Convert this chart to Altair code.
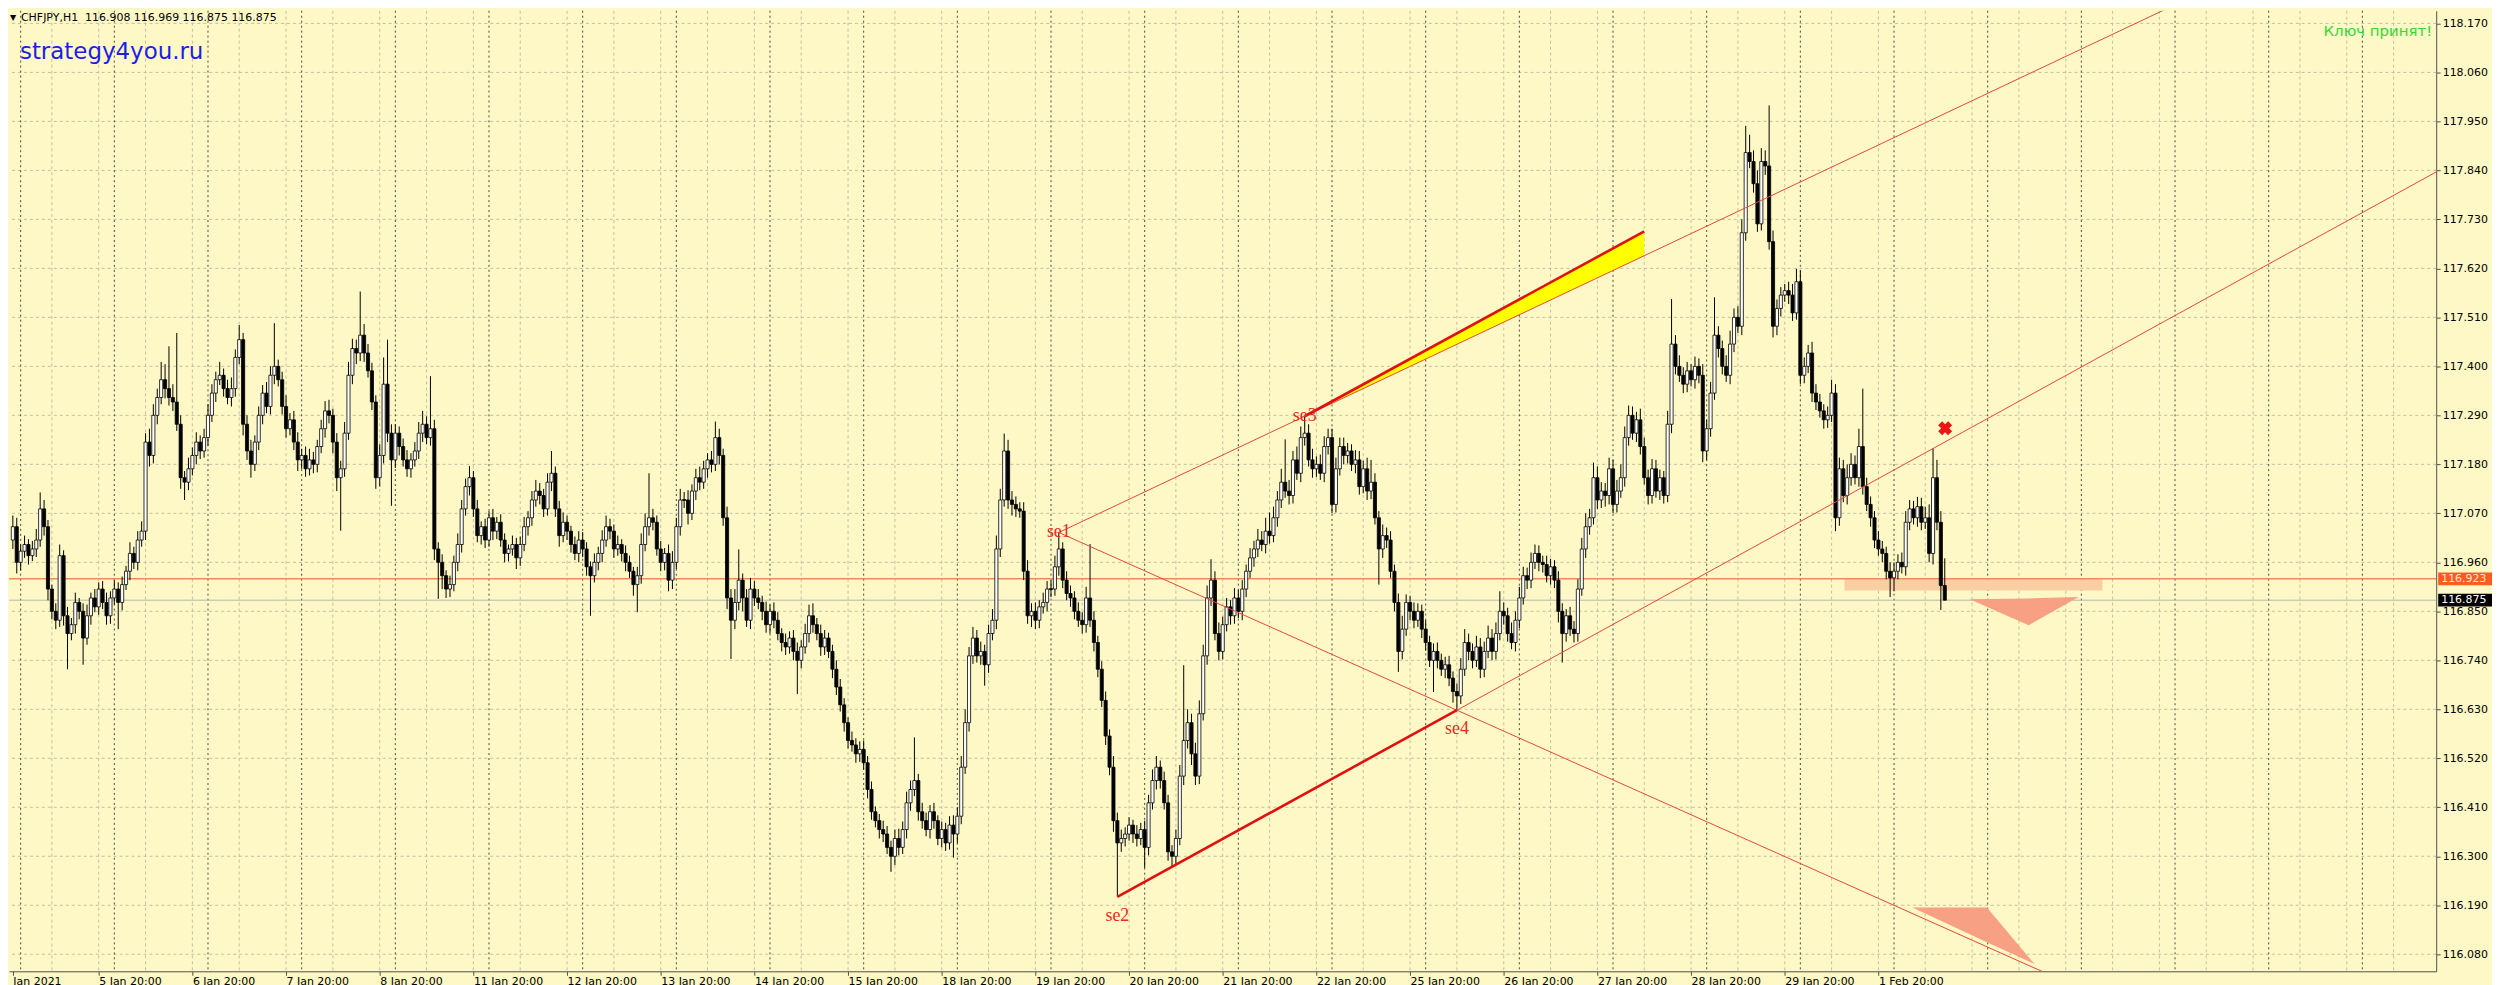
import altair as alt
import pandas as pd

# ---------------------------------------------------------------- data
# CHFJPY H1 candles; prices stored in points above 116.000 (1 point = 0.001)
BASE = 116.0
FIRST_OPEN = 1010

closes = [
    1040, 960,  # 4 Jan 22:00-23:00
    985, 1000, 975, 990, 1010, 1080, 1040, 900, 850, 830, 975, 840, 800, 820, 870, 850, 790, 840, 880, 860, 900, 870, 840, 880,  # 5 Jan
    900, 870, 910, 940, 980, 960, 1010, 1030, 1230, 1200, 1290, 1330, 1370, 1350, 1330, 1320, 1270, 1150, 1140, 1170, 1200, 1230, 1210, 1240,  # 6 Jan
    1290, 1340, 1370, 1380, 1350, 1330, 1350, 1420, 1460, 1270, 1210, 1180, 1230, 1290, 1340, 1310, 1380, 1400, 1370, 1310, 1260, 1280, 1230, 1190,  # 7 Jan
    1200, 1170, 1190, 1180, 1220, 1260, 1300, 1290, 1230, 1150, 1170, 1250, 1380, 1440, 1430, 1470, 1430, 1390, 1320, 1150, 1200, 1360, 1250, 1190,  # 8 Jan
    1250, 1220, 1190, 1170, 1190, 1210, 1250, 1270, 1240, 1260, 990, 960, 930, 900, 910, 960, 1000, 1080, 1130, 1150, 1080, 1020, 1040, 1010,  # 11 Jan
    1060, 1030, 1050, 1010, 980, 990, 1000, 970, 1000, 1040, 1060, 1100, 1120, 1110, 1080, 1140, 1160, 1080, 1020, 1050, 1030, 1000, 980, 1010,  # 12 Jan
    990, 950, 930, 960, 980, 1010, 1040, 1030, 990, 1000, 980, 960, 940, 910, 930, 1000, 1040, 1060, 1050, 990, 960, 980, 920, 960,  # 13 Jan
    1040, 1100, 1100, 1070, 1120, 1150, 1140, 1170, 1190, 1180, 1240, 1200, 1060, 880, 830, 870, 920, 880, 830, 900, 880, 870, 850, 820,  # 14 Jan
    850, 830, 800, 780, 770, 790, 760, 740, 770, 800, 840, 820, 800, 770, 790, 760, 720, 680, 640, 600, 560, 550, 530, 540,  # 15 Jan
    510, 450, 400, 380, 360, 350, 320, 300, 340, 320, 360, 420, 450, 470, 400, 380, 360, 400, 380, 340, 360, 330, 370, 350,  # 18 Jan
    390, 500, 600, 750, 790, 750, 760, 730, 800, 830, 990, 1100, 1210, 1100, 1090, 1080, 1075, 940, 840, 850, 830, 860, 870, 900,  # 19 Jan
    900, 950, 990, 920, 890, 880, 850, 830, 820, 880, 830, 780, 720, 650, 570, 500, 380, 330, 340, 350, 370, 350, 340, 360,  # 20 Jan
    320, 420, 470, 500, 470, 420, 310, 300, 340, 480, 560, 600, 530, 480, 620, 750, 880, 920, 800, 760, 820, 860, 840, 880,  # 21 Jan
    850, 900, 940, 970, 990, 1010, 1000, 1030, 1020, 1060, 1100, 1140, 1120, 1110, 1190, 1160, 1240, 1250, 1190, 1170, 1180, 1160, 1220, 1240,  # 22 Jan
    1090, 1170, 1220, 1200, 1210, 1180, 1190, 1130, 1170, 1120, 1140, 1060, 990, 1020, 1010, 940, 870, 760, 810, 870, 850, 830, 850, 810,  # 25 Jan
    780, 740, 760, 740, 720, 730, 700, 670, 660, 720, 780, 760, 740, 770, 720, 760, 790, 760, 800, 850, 840, 800, 780, 830,  # 26 Jan
    880, 930, 920, 960, 980, 960, 955, 930, 950, 920, 850, 800, 840, 810, 800, 900, 990, 1040, 1060, 1150, 1100, 1120, 1110, 1170,  # 27 Jan
    1090, 1120, 1150, 1240, 1290, 1250, 1280, 1220, 1150, 1110, 1170, 1120, 1150, 1110, 1270, 1450, 1400, 1380, 1360, 1390, 1370, 1400, 1380, 1210,  # 28 Jan
    1260, 1340, 1470, 1440, 1400, 1380, 1450, 1510, 1490, 1700, 1880, 1860, 1810, 1720, 1860, 1850, 1680, 1490, 1530, 1560, 1570, 1560, 1520, 1590,  # 29 Jan
    1380, 1400, 1430, 1340, 1320, 1300, 1280, 1290, 1340, 1060, 1170, 1110, 1150, 1180, 1150, 1220, 1130, 1090, 1060, 1010, 990, 980, 940, 925,  # 1 Feb
    940, 960, 950, 1050, 1080, 1060, 1085, 1050, 1060, 980, 1150, 1050, 908, 875,  # 2 Feb
]

# upper shadow above the body, in points
wick_up = [
    25, 20,
    15, 20, 12, 18, 25, 37, 20, 15, 10, 18, 25, 12, 20, 15, 22, 10, 18, 25, 12, 20, 15, 18, 22, 15,
    20, 15, 18, 12, 25, 15, 20, 22, 20, 30, 25, 20, 40, 35, 95, 30, 155, 20, 15, 25, 18, 22, 15, 20,
    25, 20, 18, 30, 15, 20, 25, 18, 33, 15, 20, 25, 15, 20, 18, 25, 20, 97, 15, 18, 25, 15, 20, 22,
    15, 20, 25, 18, 15, 20, 22, 25, 15, 20, 18, 25, 30, 22, 20, 98, 25, 20, 18, 15, 25, 60, 100, 20,
    20, 15, 18, 22, 15, 20, 25, 30, 18, 118, 20, 15, 18, 12, 20, 15, 25, 20, 18, 26, 15, 20, 12, 18,
    15, 20, 12, 18, 15, 10, 20, 15, 18, 22, 15, 20, 25, 18, 15, 20, 50, 15, 18, 22, 15, 12, 18, 20,
    18, 15, 12, 20, 15, 22, 25, 18, 15, 20, 12, 18, 15, 10, 20, 25, 30, 100, 20, 15, 18, 12, 20, 25,
    20, 25, 18, 22, 15, 20, 25, 18, 15, 20, 36, 20, 15, 25, 20, 30, 69, 15, 20, 25, 18, 20, 15, 22,
    15, 20, 18, 12, 20, 15, 18, 20, 15, 22, 25, 28, 15, 20, 18, 12, 15, 20, 18, 15, 12, 20, 15, 18,
    20, 15, 18, 12, 15, 20, 18, 15, 20, 22, 18, 25, 20, 97, 15, 20, 18, 15, 20, 12, 18, 15, 20, 22,
    20, 25, 30, 20, 25, 18, 22, 15, 20, 25, 30, 25, 39, 25, 20, 18, 15, 20, 25, 18, 20, 15, 22, 18,
    20, 25, 37, 15, 20, 18, 15, 20, 18, 25, 121, 20, 15, 18, 20, 15, 25, 18, 20, 15, 18, 12, 20, 15,
    20, 18, 25, 25, 15, 20, 18, 15, 20, 25, 169, 30, 20, 25, 30, 25, 28, 47, 20, 25, 18, 20, 15, 22,
    18, 20, 15, 22, 18, 25, 20, 30, 42, 25, 20, 30, 96, 25, 20, 30, 25, 38, 20, 25, 18, 22, 23, 20,
    20, 25, 20, 20, 18, 15, 22, 20, 18, 25, 50, 20, 15, 25, 18, 20, 15, 20, 30, 18, 15, 20, 18, 15,
    20, 15, 18, 20, 15, 18, 20, 15, 18, 25, 30, 20, 18, 25, 20, 22, 28, 20, 25, 45, 20, 18, 25, 20,
    25, 20, 18, 22, 20, 18, 15, 20, 18, 15, 20, 18, 15, 20, 18, 22, 25, 30, 20, 34, 25, 20, 18, 25,
    20, 25, 30, 25, 22, 20, 18, 25, 20, 18, 22, 20, 18, 15, 30, 101, 20, 25, 18, 20, 15, 22, 18, 25,
    20, 25, 85, 20, 18, 25, 30, 20, 25, 30, 60, 40, 25, 30, 30, 25, 136, 25, 20, 18, 15, 20, 25, 29,
    25, 20, 18, 25, 20, 18, 15, 20, 30, 20, 25, 20, 30, 25, 20, 40, 130, 20, 18, 15, 20, 18, 15, 20,
    20, 18, 22, 25, 20, 18, 22, 20, 25, 30, 66, 40, 25, 61,
]

# lower shadow below the body, in points
wick_dn = [
    20, 25,
    18, 15, 20, 12, 18, 15, 20, 25, 18, 20, 15, 22, 80, 15, 20, 18, 60, 15, 20, 12, 18, 15, 20, 18,
    15, 60, 18, 12, 20, 15, 18, 15, 20, 25, 18, 20, 15, 22, 18, 20, 15, 25, 40, 18, 15, 20, 18, 15,
    18, 15, 20, 12, 18, 15, 20, 18, 15, 25, 20, 30, 15, 18, 20, 15, 18, 20, 15, 18, 20, 15, 18, 25,
    20, 18, 15, 20, 18, 15, 20, 18, 25, 30, 119, 18, 15, 20, 25, 18, 20, 15, 18, 25, 20, 18, 20, 103,
    18, 20, 15, 18, 20, 15, 18, 20, 15, 18, 25, 82, 30, 20, 18, 15, 20, 18, 15, 20, 18, 15, 20, 18,
    15, 20, 18, 15, 20, 18, 15, 25, 18, 15, 20, 18, 15, 20, 18, 15, 20, 18, 25, 15, 20, 18, 15, 20,
    18, 20, 90, 15, 18, 20, 15, 18, 20, 15, 18, 20, 15, 25, 62, 18, 15, 20, 18, 15, 20, 18, 25, 20,
    15, 20, 18, 25, 15, 20, 18, 15, 20, 18, 15, 20, 18, 25, 87, 20, 18, 30, 15, 20, 18, 15, 20, 18,
    20, 18, 15, 20, 18, 15, 20, 76, 18, 15, 20, 18, 15, 20, 18, 15, 20, 18, 15, 20, 18, 15, 20, 18,
    15, 20, 18, 15, 20, 18, 15, 35, 20, 18, 15, 20, 18, 15, 20, 18, 15, 20, 18, 15, 20, 18, 15, 53,
    20, 18, 15, 20, 18, 15, 20, 47, 18, 15, 20, 18, 15, 20, 25, 18, 15, 20, 18, 25, 20, 18, 15, 20,
    18, 15, 20, 18, 15, 20, 18, 15, 20, 18, 15, 20, 18, 15, 20, 18, 25, 121, 20, 18, 15, 20, 18, 15,
    46, 18, 15, 20, 18, 15, 20, 26, 18, 15, 20, 18, 25, 20, 18, 15, 20, 18, 15, 20, 18, 15, 20, 18,
    15, 20, 18, 15, 20, 18, 15, 20, 18, 15, 20, 18, 15, 20, 18, 15, 20, 18, 15, 20, 18, 15, 20, 18,
    20, 18, 15, 20, 18, 15, 20, 18, 15, 20, 18, 15, 80, 20, 18, 15, 20, 46, 18, 15, 20, 18, 15, 20,
    18, 15, 71, 18, 15, 20, 18, 25, 32, 18, 15, 20, 18, 15, 20, 18, 15, 20, 18, 15, 20, 18, 15, 20,
    18, 15, 20, 18, 15, 20, 18, 15, 20, 18, 25, 65, 18, 15, 20, 18, 15, 20, 18, 15, 20, 18, 25, 20,
    20, 18, 15, 20, 18, 15, 20, 18, 15, 20, 18, 15, 20, 18, 15, 20, 18, 15, 20, 18, 15, 20, 18, 25,
    20, 18, 15, 20, 18, 15, 20, 18, 15, 20, 18, 15, 20, 18, 15, 20, 18, 25, 20, 18, 15, 20, 18, 15,
    20, 18, 15, 20, 18, 15, 20, 18, 15, 30, 18, 15, 20, 18, 15, 20, 18, 15, 20, 18, 15, 20, 18, 43,
    30, 18, 15, 20, 18, 15, 20, 18, 15, 20, 25, 18, 55, 0,
]

date_labels = ["Jan 2021", "5 Jan 20:00", "6 Jan 20:00", "7 Jan 20:00", "8 Jan 20:00",
               "11 Jan 20:00", "12 Jan 20:00", "13 Jan 20:00", "14 Jan 20:00", "15 Jan 20:00",
               "18 Jan 20:00", "19 Jan 20:00", "20 Jan 20:00", "21 Jan 20:00", "22 Jan 20:00",
               "25 Jan 20:00", "26 Jan 20:00", "27 Jan 20:00", "28 Jan 20:00", "29 Jan 20:00",
               "1 Feb 20:00"]
label_bars = [0] + [22 + 24 * k for k in range(20)]       # bar of each label (20:00 of each day)
day_start_bars = [2 + 24 * k for k in range(26)]          # 00:00 period separators
grid_bars = [10 + 12 * k for k in range(51)]              # 08:00 / 20:00 grid
price_ticks = [116.080, 116.190, 116.300, 116.410, 116.520, 116.630, 116.740, 116.850, 116.960,
               117.070, 117.180, 117.290, 117.400, 117.510, 117.620, 117.730, 117.840, 117.950,
               118.060, 118.170]

# pivot points: bar and which extreme of that candle
se_bars = [268, 283, 331, 370]
se_names = ["se1", "se2", "se3", "se4"]
se_kinds = ["high", "low", "high", "low"]

band_end_bar = 418
band_end_top = 117.703
zone_bars = [469.3, 535.4]
zone_prices = [116.922, 116.897]
tri_a_bars = [501.4, 516.5, 529.3]
tri_a_top = [116.877, 116.879, 116.882]
tri_a_bot = [116.877, 116.819, 116.882]
tri_b_bars = [486.7, 505.8, 518.0]
tri_b_top = [116.185, 116.185, 116.058]
tri_b_bot = [116.185, 116.107, 116.058]
level_price = 116.923
bid_price = 116.875
cross_bar = [495.1]
cross_price = [117.261]

# ---------------------------------------------------------------- layout / style
W, H = 2436, 964
X_DOMAIN = [-0.988, 620.92]
Y_DOMAIN = [116.0418, 118.1984]
BG = "#fdf8c5"
GRID = "#c4bfa3"
SEP = "#2a2a2a"
THIN = "#e5483c"
THICK = "#e01010"
FONT = "DejaVu Sans"

# ---------------------------------------------------------------- tables
n = min(len(closes), len(wick_up), len(wick_dn))
opens = [FIRST_OPEN] + closes[:-1]
rows = []
for i in range(n):
    o, c = opens[i], closes[i]
    top, bot = max(o, c), min(o, c)
    hi, lo = top + wick_up[i], bot - wick_dn[i]
    if top - bot < 2:
        top, bot = top + 1, bot - 1
    rows.append({
        "bar": i, "xl": i - 0.4, "xr": i + 0.4,
        "top": BASE + top / 1000, "bot": BASE + bot / 1000,
        "high": BASE + hi / 1000, "low": BASE + lo / 1000,
        "fill": "#ffffff" if c > o else "#000000",
    })
candles = pd.DataFrame(rows)


def extreme(b, kind):
    o, c = opens[b], closes[b]
    v = max(o, c) + wick_up[b] if kind == "high" else min(o, c) - wick_dn[b]
    return BASE + v / 1000


P = {nm: (b, extreme(b, k)) for nm, b, k in zip(se_names, se_bars, se_kinds)}


def through(p, q, xb):
    return p[1] + (q[1] - p[1]) * (xb - p[0]) / (q[0] - p[0])


FAR = 660
lines = pd.DataFrame([
    {"x": P["se1"][0], "y": P["se1"][1], "x2": FAR, "y2": through(P["se1"], P["se3"], FAR), "w": 1.0, "c": THIN},
    {"x": P["se1"][0], "y": P["se1"][1], "x2": FAR, "y2": through(P["se1"], P["se4"], FAR), "w": 1.0, "c": THIN},
    {"x": P["se4"][0], "y": P["se4"][1], "x2": FAR, "y2": through(P["se2"], P["se4"], FAR), "w": 1.0, "c": THIN},
    {"x": P["se2"][0], "y": P["se2"][1], "x2": P["se4"][0], "y2": P["se4"][1], "w": 2.6, "c": THICK},
    {"x": P["se3"][0], "y": P["se3"][1], "x2": band_end_bar, "y2": band_end_top, "w": 2.6, "c": THICK},
])
band = pd.DataFrame({
    "b": [P["se3"][0], band_end_bar],
    "top": [P["se3"][1], band_end_top],
    "bot": [P["se3"][1], through(P["se1"], P["se3"], band_end_bar)],
})
tris = pd.DataFrame({
    "b": tri_a_bars + tri_b_bars,
    "top": tri_a_top + tri_b_top,
    "bot": tri_a_bot + tri_b_bot,
    "g": ["a"] * 3 + ["b"] * 3,
})
labels_df = pd.DataFrame({
    "b": [P[nm][0] for nm in se_names],
    "p": [P[nm][1] for nm in se_names],
    "t": se_names,
    "below": [k == "low" for k in se_kinds],
})

# ---------------------------------------------------------------- scales / axes
xs = alt.Scale(domain=X_DOMAIN, nice=False, zero=False)
ys = alt.Scale(domain=Y_DOMAIN, nice=False, zero=False)

expr = "''"
for b, t in reversed(list(zip(label_bars, date_labels))):
    expr = f"datum.value == {b} ? '{t}' : {expr}"

x_axis = alt.Axis(orient="bottom", values=label_bars, labelExpr=expr, title=None, grid=False,
                  domainColor="#505050", domainWidth=1, tickColor="#505050", tickSize=4,
                  labelAlign="left", labelBaseline="top", labelPadding=0, labelFont=FONT,
                  labelFontSize=11, labelColor="#000000", labelOverlap=False,
                  labelFlush=False, labelBound=False)
y_axis = alt.Axis(orient="right", values=price_ticks, format=".3f", title=None, grid=False,
                  domainColor="#505050", domainWidth=1, tickColor="#505050", tickSize=4,
                  labelPadding=2, labelFont=FONT, labelFontSize=11, labelColor="#000000",
                  labelOverlap=False, labelFlush=False, labelBound=False)


def X(f):
    return alt.X(f, type="quantitative", scale=xs, axis=x_axis)


def Y(f):
    return alt.Y(f, type="quantitative", scale=ys, axis=y_axis)


# ---------------------------------------------------------------- layers
hgrid = alt.Chart(pd.DataFrame({"p": price_ticks})).mark_rule(
    color=GRID, strokeDash=[3, 3], strokeWidth=1).encode(y=Y("p"))
vgrid = alt.Chart(pd.DataFrame({"b": [b for b in grid_bars if b < X_DOMAIN[1]]})).mark_rule(
    color=GRID, strokeDash=[3, 3], strokeWidth=1).encode(x=X("b"))
seps = alt.Chart(pd.DataFrame({"b": [b for b in day_start_bars if b < X_DOMAIN[1]]})).mark_rule(
    color=SEP, strokeDash=[2, 3], strokeWidth=1, opacity=0.85).encode(x=X("b"))

zone = alt.Chart(pd.DataFrame({"x1": [zone_bars[0]], "x2": [zone_bars[1]],
                               "p1": [zone_prices[0]], "p2": [zone_prices[1]]})).mark_rect(
    color="#f8cfa3").encode(x=X("x1"), x2="x2", y=Y("p1"), y2="p2")
level = alt.Chart(pd.DataFrame({"p": [level_price]})).mark_rule(
    color="#ee8a55", strokeWidth=1.5).encode(y=Y("p"))
bid = alt.Chart(pd.DataFrame({"p": [bid_price]})).mark_rule(
    color="#b5b5b5", strokeWidth=1).encode(y=Y("p"))

wicks = alt.Chart(candles).mark_rule(color="#000000", strokeWidth=1).encode(
    x=X("bar"), y=Y("low"), y2="high")
bodies = alt.Chart(candles).mark_rect(stroke="#000000", strokeWidth=0.8).encode(
    x=X("xl"), x2="xr", y=Y("top"), y2="bot", fill=alt.Fill("fill:N", scale=None))

band_l = alt.Chart(band).mark_area(color="#ffff00", opacity=1, clip=True).encode(
    x=X("b"), y=Y("top"), y2="bot")
trend = alt.Chart(lines).mark_rule(clip=True).encode(
    x=X("x"), y=Y("y"), x2="x2", y2="y2",
    color=alt.Color("c:N", scale=None), strokeWidth=alt.StrokeWidth("w:Q", scale=None))
tri_l = alt.Chart(tris).mark_area(color="#f7a083", opacity=1).encode(
    x=X("b"), y=Y("top"), y2="bot", detail="g:N")

se_above = alt.Chart(labels_df[~labels_df["below"]]).mark_text(
    font="Liberation Serif", fontSize=18, color="#e52b22", align="center", baseline="middle").encode(
    x=X("b"), y=Y("p"), text="t:N")
se_below = alt.Chart(labels_df[labels_df["below"]]).mark_text(
    font="Liberation Serif", fontSize=18, color="#e52b22", align="center", baseline="middle", dy=19).encode(
    x=X("b"), y=Y("p"), text="t:N")
cross = alt.Chart(pd.DataFrame({"b": cross_bar, "p": cross_price})).mark_point(
    shape="cross", angle=45, filled=True, size=200, color="#f01515", opacity=1).encode(
    x=X("b"), y=Y("p"))

tags = pd.DataFrame({
    "p": [level_price, bid_price],
    "hi": [level_price + 0.0142, bid_price + 0.0142],
    "lo": [level_price - 0.0142, bid_price - 0.0142],
    "t": [f"{level_price:.3f}", f"{bid_price:.3f}"],
    "bg": ["#ff5a1f", "#000000"],
    "fg": ["#ffe3cf", "#ffffff"],
})
tag_box = alt.Chart(tags).mark_rect().encode(
    x=alt.value(W + 2), x2=alt.value(W + 56), y=Y("hi"), y2="lo",
    color=alt.Color("bg:N", scale=None))
tag_txt = alt.Chart(tags).mark_text(font=FONT, fontSize=11, align="left", baseline="middle").encode(
    x=alt.value(W + 5), y=Y("p"), text="t:N", color=alt.Color("fg:N", scale=None))

info = pd.DataFrame({"t": ["CHFJPY,H1\u00a0\u00a0116.908 116.969 116.875 116.875"]})
head_tri = alt.Chart(pd.DataFrame({"t": ["\u25bc"]})).mark_text(
    font=FONT, fontSize=8, align="left", baseline="middle", color="#000000").encode(
    x=alt.value(1), y=alt.value(7), text="t:N")
head = alt.Chart(info).mark_text(
    font=FONT, fontSize=11, align="left", baseline="middle", color="#000000").encode(
    x=alt.value(12), y=alt.value(7), text="t:N")
site = alt.Chart(pd.DataFrame({"t": ["strategy4you.ru"]})).mark_text(
    font=FONT, fontSize=23, align="left", baseline="alphabetic", color="#1e1ee6").encode(
    x=alt.value(11), y=alt.value(48), text="t:N")
key = alt.Chart(pd.DataFrame({"t": ["Ключ принят!"]})).mark_text(
    font=FONT, fontSize=15, align="right", baseline="middle", color="#35d635").encode(
    x=alt.value(W - 4), y=alt.value(20), text="t:N")

chart = alt.layer(
    hgrid, vgrid, seps, zone, level, bid, wicks, bodies, band_l, trend, tri_l,
    se_above, se_below, cross, tag_box, tag_txt, head_tri, head, site, key,
).properties(
    width=W, height=H, background=BG, padding=0,
    usermeta={"embedOptions": {"defaultStyle":
        "html,body{margin:0;padding:0;overflow:hidden;background:" + BG + ";}"}},
).configure_view(stroke="transparent")

chart.save("out.html", embed_options={"renderer": "svg", "actions": False})
